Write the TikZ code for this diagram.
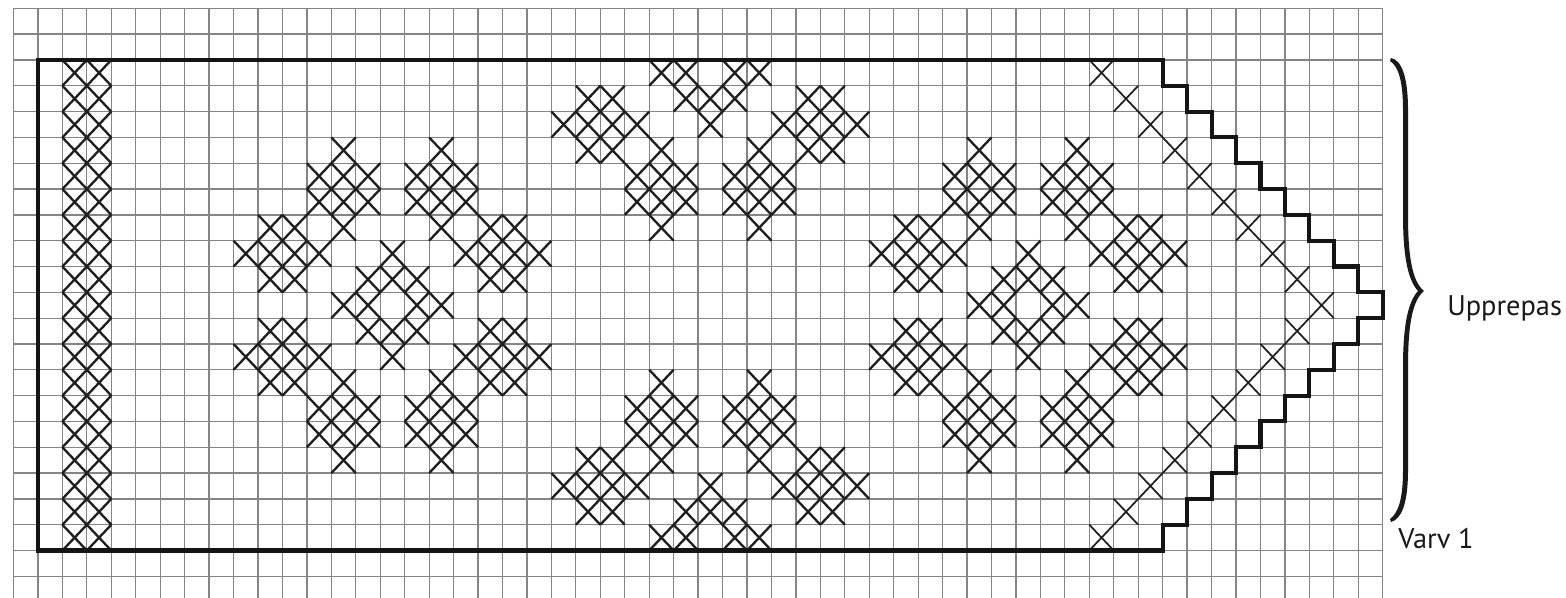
\documentclass[tikz,border=0pt]{standalone}
\usepackage{fontspec}
\setmainfont{PT Sans}
\newcommand\xcell[3][stitch]{\draw[#1] (#2,#3) -- ++(1,1) ++(0,-1) -- ++(-1,1);}
\begin{document}
\begin{tikzpicture}[x=0.75pt,y=-0.75pt,
  gridline/.style={line width=0.95pt, draw=black!48},
  border/.style={line width=3.1pt, draw=black!92, line join=miter},
  stitch/.style={line width=1.75pt, draw=black!88},
  thinstitch/.style={line width=1.3pt, draw=black!88},
  lbl/.style={font=\fontsize{21.3}{25}\selectfont, inner sep=0pt, anchor=base west, text=black!90}]
\useasboundingbox (0,0) rectangle (1566,597);
\fill[white] (0,0) rectangle (1566,597);
\begin{scope}[shift={(10.125pt,-6.225pt)}, x=18.3375pt, y=-19.365pt]
  % grid
  \foreach \i in {0,...,56} \draw[gridline] (\i,0) -- (\i,22.85);
  \foreach \j in {0,...,22} \draw[gridline] (0,\j) -- (56,\j);
  % left band
  \foreach \r in {2,...,20} {\xcell{2}{\r}\xcell{3}{\r}}
  % flowers
  \foreach \cx in {15,41} {
    \foreach \dy/\lst in {6/{-2,2},5/{-3,-2,-1,1,2,3},4/{-3,-2,-1,1,2,3},3/{-5,-4,-2,2,4,5},2/{-6,-5,-4,-3,0,3,4,5,6},1/{-5,-4,-1,0,1,4,5}} {
      \foreach \dx in \lst {\xcell{\cx+\dx}{11-\dy}\xcell{\cx+\dx}{11+\dy}}
    }
    \foreach \dx in {-2,-1,1,2} {\xcell{\cx+\dx}{11}}
  }
  % middle motif
  \foreach \dy/\lst in {9/{-2,-1,1,2},8/{-5,-4,-1,0,1,4,5},7/{-6,-5,-4,-3,0,3,4,5,6},6/{-5,-4,-2,2,4,5},5/{-3,-2,-1,1,2,3},4/{-3,-2,-1,1,2,3},3/{-2,2}} {
    \foreach \dx in \lst {\xcell{28+\dx}{11-\dy}\xcell{28+\dx}{11+\dy}}
  }
  % diagonal
  \foreach \r in {2,...,20} {\pgfmathtruncatemacro\cc{53-abs(\r-11)}\xcell[thinstitch]{\cc}{\r}}
  % border
  \draw[border] (1,2) -- (47,2) -- (47,3) -- (48,3) -- (48,4) -- (49,4) -- (49,5) -- (50,5) -- (50,6) -- (51,6) -- (51,7) -- (52,7) -- (52,8) -- (53,8) -- (53,9) -- (54,9) -- (54,10) -- (55,10) -- (55,11) -- (56,11) -- (56,12) -- (55,12) -- (55,13) -- (54,13) -- (54,14) -- (53,14) -- (53,15) -- (52,15) -- (52,16) -- (51,16) -- (51,17) -- (50,17) -- (50,18) -- (49,18) -- (49,19) -- (48,19) -- (48,20) -- (47,20) -- (47,21) -- (1,21) -- cycle;
\end{scope}
% brace
\fill[black!90] (1391,58) .. controls (1401,60) and (1408,75) .. (1408,110) -- (1408,215) .. controls (1408,260) and (1413,282) .. (1424,291)
  .. controls (1413,300) and (1408,322) .. (1408,367) -- (1408,470) .. controls (1408,505) and (1401,519) .. (1391,522)
  -- (1390,519) .. controls (1398,513) and (1403,500) .. (1403,470) -- (1403,367) .. controls (1403,325) and (1408,302) .. (1418,291)
  .. controls (1408,280) and (1403,257) .. (1403,215) -- (1403,110) .. controls (1403,80) and (1398,66) .. (1390,61) -- cycle;
\node[lbl] (rep) at (1447,315) {Upprepas};
\node[lbl] (row1) at (1398,548) {Varv 1};
\end{tikzpicture}
\end{document}
